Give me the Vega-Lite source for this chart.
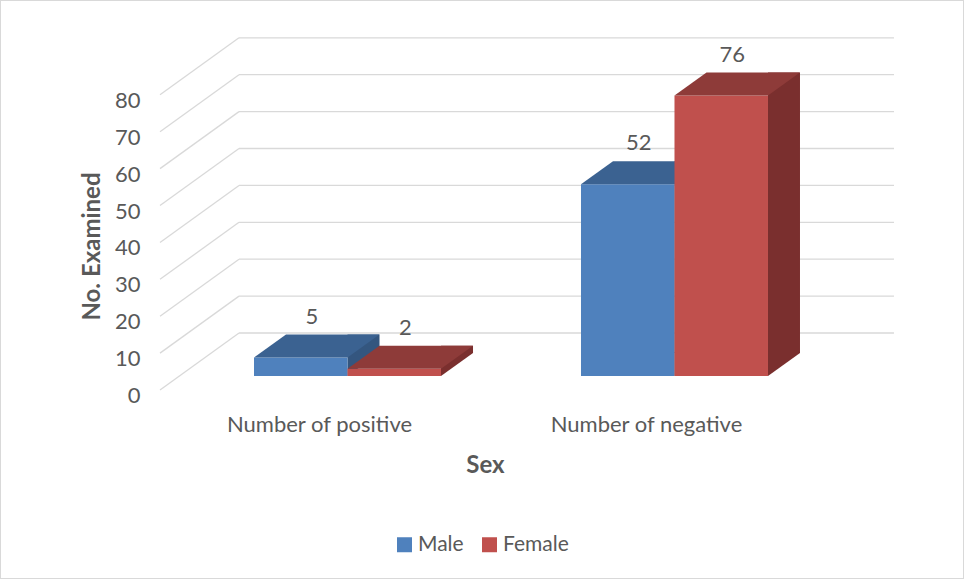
{
  "$schema": "https://vega.github.io/schema/vega-lite/v6.json",
  "width": 964,
  "height": 579,
  "autosize": "none",
  "padding": 0,
  "background": "white",
  "config": {"view": {"stroke": "#d9d9d9", "strokeWidth": 2}, "font": "Lato"},
  "datasets": {
    "counts": [
      {"category": "Number of positive", "sex": "Male", "value": 5},
      {"category": "Number of positive", "sex": "Female", "value": 2},
      {"category": "Number of negative", "sex": "Male", "value": 52},
      {"category": "Number of negative", "sex": "Female", "value": 76}
    ],
    "grid": [{"value": 0}, {"value": 10}, {"value": 20}, {"value": 30}, {"value": 40}, {"value": 50}, {"value": 60}, {"value": 70}, {"value": 80}]
  },
  "layer": [
    {
      "data": {"name": "grid"},
      "mark": {"type": "rule", "color": "#d9d9d9", "strokeWidth": 1.3, "xOffset": -108.5, "x2Offset": 219.5, "yOffset": -43},
      "encoding": {
        "x": {"datum": "Number of positive", "type": "nominal", "title": "Sex",
          "scale": {"domain": ["Number of positive", "Number of negative"], "range": [160, 862], "paddingInner": 0.4281, "paddingOuter": 0.2875},
          "axis": {"offset": -203, "domain": false, "ticks": false, "tickSize": 0, "grid": false, "labelAngle": 0, "labelLimit": 0, "labelFont": "Lato", "labelFontSize": 22, "labelColor": "#595959", "labelOffset": -28, "labelPadding": 48, "labelBaseline": "middle", "titleFont": "Lato", "titleFontSize": 24, "titleFontWeight": "bold", "titleColor": "#595959", "titleX": 485, "titleY": 89, "titleBaseline": "middle"}},
        "x2": {"datum": "Number of negative"},
        "y": {"field": "value", "type": "quantitative", "title": "No. Examined",
          "scale": {"domain": [-55.01, 101.9], "nice": false, "zero": false},
          "axis": {"offset": -160, "values": [0, 10, 20, 30, 40, 50, 60, 70, 80], "domain": false, "ticks": false, "tickSize": 0, "grid": false, "labelFont": "Lato", "labelFontSize": 22, "labelColor": "#595959", "labelPadding": 20, "labelOffset": 19.5, "labelBaseline": "middle", "titleFont": "Lato", "titleFontSize": 24, "titleFontWeight": "bold", "titleColor": "#595959", "titleX": -68, "titleY": 246, "titleBaseline": "middle"}}
      }
    },
    {
      "data": {"name": "grid"},
      "mark": {"type": "rule", "color": "#d9d9d9", "strokeWidth": 1.3, "xOffset": -187.5, "x2Offset": -108.5, "yOffset": 14, "y2Offset": -43},
      "encoding": {
        "x": {"datum": "Number of positive", "type": "nominal", "title": "Sex"},
        "x2": {"datum": "Number of positive"},
        "y": {"field": "value", "type": "quantitative", "title": "No. Examined"},
        "y2": {"field": "value"}
      }
    },
    {
      "data": {"name": "counts"},
      "transform": [{"filter": "datum.sex === 'Male'"}],
      "mark": {"type": "bar", "width": 32, "xOffset": 16, "yOffset": -23, "y2Offset": -23, "color": "#34567f"},
      "encoding": {
        "x": {"field": "category", "type": "nominal", "title": "Sex"},
        "y": {"field": "value", "type": "quantitative", "title": "No. Examined"},
        "y2": {"datum": 0}
      }
    },
    {
      "data": {"name": "counts"},
      "transform": [{"filter": "datum.sex === 'Male'"}],
      "mark": {"type": "point", "shape": "M0.5844,-0.3 L0.9844,-0.3 L0.9844,-0.2875 L0.5844,0 Z", "size": 25600, "filled": true, "opacity": 1, "strokeWidth": 0, "color": "#34567f"},
      "encoding": {
        "x": {"field": "category", "type": "nominal", "title": "Sex"},
        "xOffset": {"field": "sex", "scale": {"domain": ["Male", "Female"], "paddingInner": 0, "paddingOuter": 0}},
        "y": {"datum": 0, "type": "quantitative", "title": "No. Examined"}
      }
    },
    {
      "data": {"name": "counts"},
      "transform": [{"filter": "datum.sex === 'Male'"}],
      "mark": {"type": "bar"},
      "encoding": {
        "x": {"field": "category", "type": "nominal", "title": "Sex"},
        "xOffset": {"field": "sex", "scale": {"domain": ["Male", "Female"], "paddingInner": 0, "paddingOuter": 0}},
        "y": {"field": "value", "type": "quantitative", "title": "No. Examined"},
        "y2": {"datum": 0},
        "color": {"field": "sex", "type": "nominal", "scale": {"domain": ["Male", "Female"], "range": ["#4f81bd", "#c0504d"]},
          "legend": {"orient": "none", "legendX": 394, "legendY": 534, "direction": "horizontal", "title": null, "symbolType": "square", "symbolSize": 225, "symbolStrokeWidth": 0, "labelFont": "Lato", "labelFontSize": 21, "labelColor": "#595959", "labelOffset": 3, "columnPadding": 15}}
      }
    },
    {
      "data": {"name": "counts"},
      "transform": [{"filter": "datum.sex === 'Male'"}],
      "mark": {"type": "point", "shape": "M-0.5844,0 L0.5844,0 L0.9844,-0.2875 L-0.1844,-0.2875 Z", "size": 25600, "filled": true, "opacity": 1, "strokeWidth": 0, "color": "#3b6291"},
      "encoding": {
        "x": {"field": "category", "type": "nominal", "title": "Sex"},
        "xOffset": {"field": "sex", "scale": {"domain": ["Male", "Female"], "paddingInner": 0, "paddingOuter": 0}},
        "y": {"field": "value", "type": "quantitative", "title": "No. Examined"}
      }
    },
    {
      "data": {"name": "counts"},
      "transform": [{"filter": "datum.sex === 'Female'"}],
      "mark": {"type": "bar", "width": 32, "xOffset": 109.5, "yOffset": -23, "y2Offset": -23, "color": "#7a2f2e"},
      "encoding": {
        "x": {"field": "category", "type": "nominal", "title": "Sex"},
        "y": {"field": "value", "type": "quantitative", "title": "No. Examined"},
        "y2": {"datum": 0}
      }
    },
    {
      "data": {"name": "counts"},
      "transform": [{"filter": "datum.sex === 'Female'"}],
      "mark": {"type": "point", "shape": "M0.5844,-0.3 L0.9844,-0.3 L0.9844,-0.2875 L0.5844,0 Z", "size": 25600, "filled": true, "opacity": 1, "strokeWidth": 0, "color": "#7a2f2e"},
      "encoding": {
        "x": {"field": "category", "type": "nominal", "title": "Sex"},
        "xOffset": {"field": "sex", "scale": {"domain": ["Male", "Female"], "paddingInner": 0, "paddingOuter": 0}},
        "y": {"datum": 0, "type": "quantitative", "title": "No. Examined"}
      }
    },
    {
      "data": {"name": "counts"},
      "transform": [{"filter": "datum.sex === 'Female'"}],
      "mark": {"type": "bar"},
      "encoding": {
        "x": {"field": "category", "type": "nominal", "title": "Sex"},
        "xOffset": {"field": "sex", "scale": {"domain": ["Male", "Female"], "paddingInner": 0, "paddingOuter": 0}},
        "y": {"field": "value", "type": "quantitative", "title": "No. Examined"},
        "y2": {"datum": 0},
        "color": {"field": "sex", "type": "nominal"}
      }
    },
    {
      "data": {"name": "counts"},
      "transform": [{"filter": "datum.sex === 'Female'"}],
      "mark": {"type": "point", "shape": "M-0.5844,0 L0.5844,0 L0.9844,-0.2875 L-0.1844,-0.2875 Z", "size": 25600, "filled": true, "opacity": 1, "strokeWidth": 0, "color": "#8e3b39"},
      "encoding": {
        "x": {"field": "category", "type": "nominal", "title": "Sex"},
        "xOffset": {"field": "sex", "scale": {"domain": ["Male", "Female"], "paddingInner": 0, "paddingOuter": 0}},
        "y": {"field": "value", "type": "quantitative", "title": "No. Examined"}
      }
    },
    {
      "data": {"name": "counts"},
      "mark": {"type": "text", "font": "Lato", "fontSize": 22, "color": "#595959", "dx": 11, "yOffset": -41, "baseline": "middle"},
      "encoding": {
        "x": {"field": "category", "type": "nominal", "title": "Sex"},
        "xOffset": {"field": "sex", "scale": {"domain": ["Male", "Female"], "paddingInner": 0, "paddingOuter": 0}},
        "y": {"field": "value", "type": "quantitative", "title": "No. Examined"},
        "text": {"field": "value", "type": "quantitative"}
      }
    }
  ]
}
